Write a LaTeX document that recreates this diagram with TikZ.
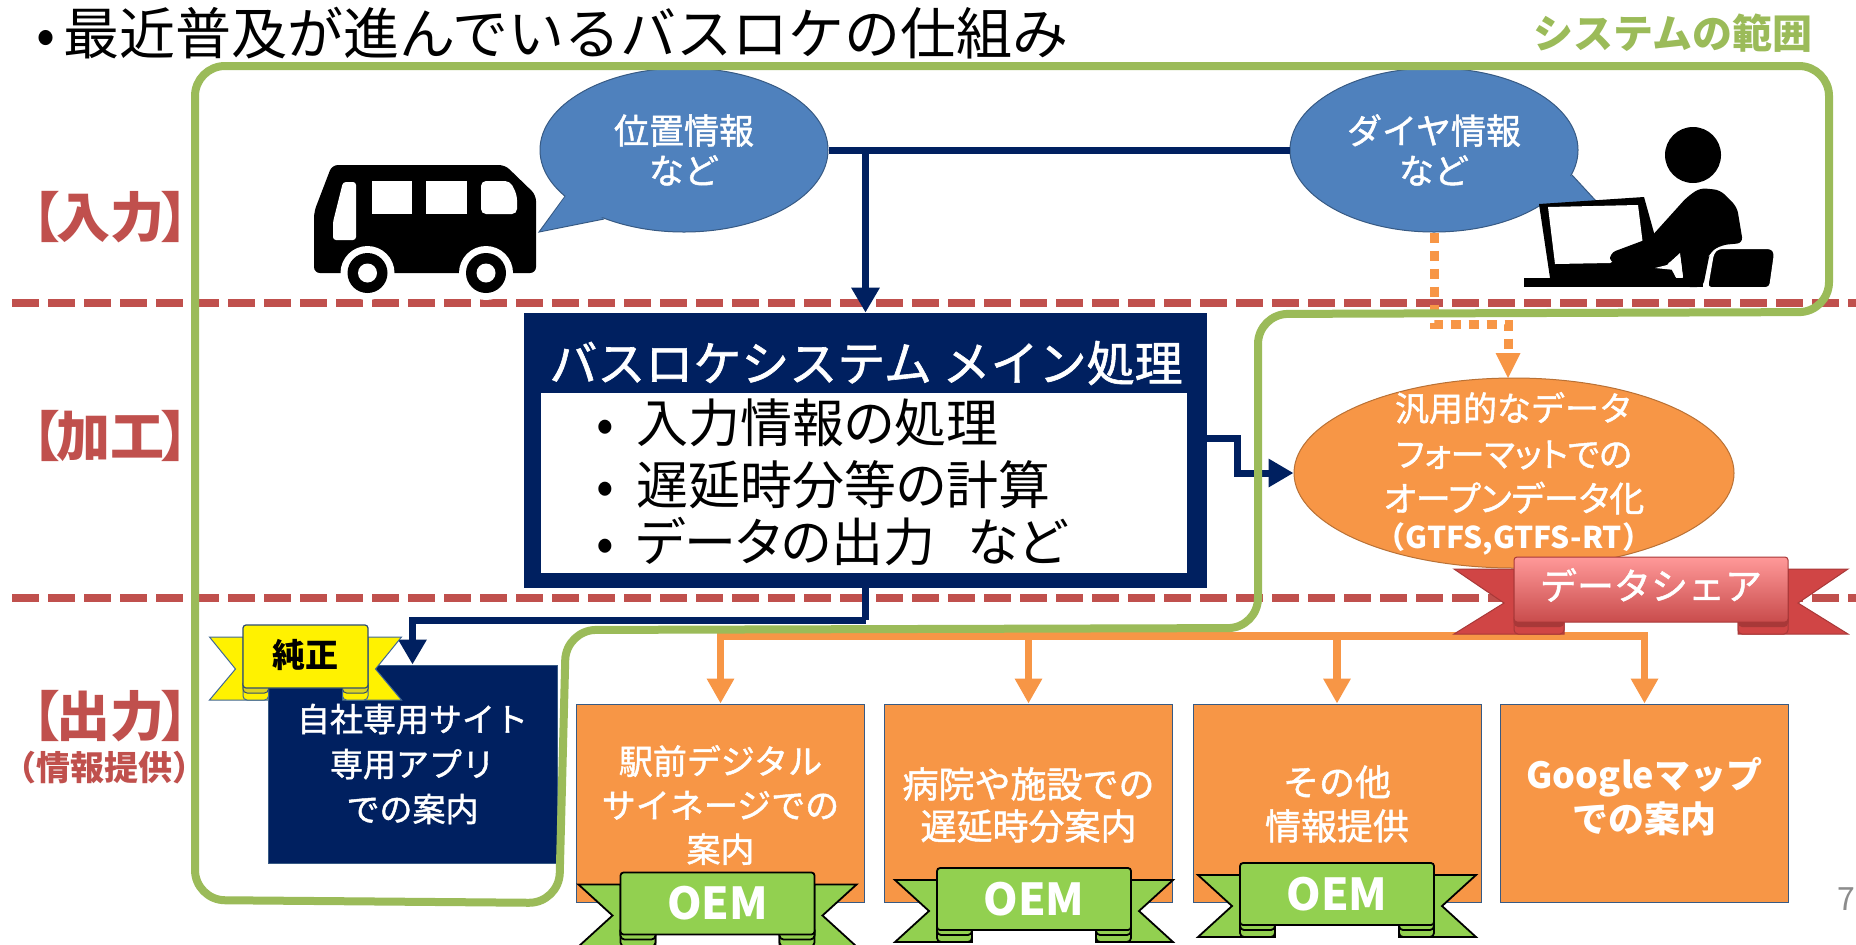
\documentclass[tikz,border=0pt]{standalone}
\usepackage{fontspec}
\setmainfont{Noto Sans CJK JP}
\newfontfamily\medfont[FakeBold=1.3]{Noto Sans CJK JP}
\newfontfamily\paltfont[RawFeature=+palt]{Noto Sans CJK JP}
\newfontfamily\medpalt[RawFeature=+palt,FakeBold=1.3]{Noto Sans CJK JP}
\usetikzlibrary{arrows.meta,shapes.geometric}
\definecolor{busnavy}{HTML}{002060}
\definecolor{borderred}{HTML}{C0504D}
\definecolor{rangegreen}{HTML}{9BBB59}
\definecolor{bubbleblue}{HTML}{4F81BD}
\definecolor{dataorange}{HTML}{F79646}
\definecolor{oemgreen}{HTML}{92D050}
\definecolor{sharetop}{HTML}{FF9999}
\definecolor{sharelow}{HTML}{C94C4C}
\definecolor{sharewing}{HTML}{D04545}
\definecolor{sharefold}{HTML}{A83838}
\newcommand\fs[2]{\fontsize{#1}{#2}\selectfont}
\newcommand\banner[8]{\begin{scope}[shift={(#1,#2)}]
\foreach \s in {-1,1}{
\path[#8wing] (\s*#5,-#4+12) -- (\s*#6,#4-19) -- (\s*#5,#4+12) -- (\s*#7,#4+12) -- (\s*#7,#4) -- (\s*#3,#4) -- (\s*#3,-#4+12) -- cycle;
\path[#8wing,rounded corners=2pt] (\s*#3,#4-8) rectangle (\s*#7,#4+12);
\path[#8fold,rounded corners=2pt] (\s*#3,#4-8) rectangle (\s*#7,#4+5);}
\path[#8face,rounded corners=1.5pt] (-#3,-#4) rectangle (#3,#4);
\end{scope}}
\tikzset{
navyline/.style={draw=busnavy,line width=3.5pt},
navyarrow/.style={navyline,-{Triangle[length=12.5pt,width=13.5pt]}},
orangearrow/.style={draw=dataorange,line width=3.75pt,-{Triangle[length=12.5pt,width=13pt]}},
dotline/.style={draw=dataorange,line width=4.5pt,dash pattern=on 5pt off 4pt},
redline/.style={draw=borderred,line width=4pt,dash pattern=on 13.5pt off 4.5pt},
bubble/.style={ellipse,inner sep=0pt,fill=bubbleblue,draw=bubbleblue!70!black,line width=.5pt,minimum width=144pt,minimum height=82pt,text=white,align=center,font=\medfont\fs{17.5}{20}},
rowlabel/.style={text=borderred,font=\fs{27}{30}\bfseries},
outbox/.style={rectangle,inner sep=0pt,fill=dataorange,draw=bubbleblue!70!black,line width=.5pt,minimum width=144pt,minimum height=99pt},
oemwing/.style={fill=oemgreen,draw=black,line width=.9pt},
oemfold/.style={fill=oemgreen,draw=black,line width=.9pt},
oemface/.style={fill=oemgreen,draw=black,line width=.9pt},
sharewing/.style={fill=sharewing,draw=sharefold,line width=.5pt},
sharefold/.style={fill=sharefold},
shareface/.style={draw=sharefold,line width=.5pt,top color=sharetop,bottom color=sharelow},
purewing/.style={fill=yellow,draw=bubbleblue!80!black,line width=.5pt},
purefold/.style={fill=yellow!85!black,draw=bubbleblue!60!black,line width=.5pt},
pureface/.style={fill=yellow,draw=bubbleblue!60!black,line width=.6pt},
}
\begin{document}
\begin{tikzpicture}[x=.5pt,y=-.5pt]
\useasboundingbox (0,0) rectangle (1856,944);
\fill[white] (0,0) rectangle (1856,944);
\node[anchor=west,inner sep=0pt,font=\fs{28}{30}] (title) at (36,33) {\makebox[13.5pt][l]{•}最近普及が進んでいるバスロケの仕組み};
\node[text=rangegreen,inner sep=0pt,font=\fs{20}{22}\bfseries] (rangelabel) at (1673,33) {システムの範囲};
\node[rowlabel] (rowin) at (110,217) {【\kern-2pt 入力\kern-2pt】};
\node[rowlabel] (rowproc) at (110,436) {【\kern-2pt 加工\kern-2pt】};
\node[rowlabel] (rowout) at (110,716) {【\kern-2pt 出力\kern-2pt】};
\node[text=borderred,font=\fs{17}{18}\bfseries] (rowinfo) at (105,768) {（情報提供）};
\node[text=black!45,font=\fs{16}{18}] (pageno) at (1846,899) {7};

\coordinate (lineaw) at (12,303);
\coordinate (lineae) at (1856,303);
\coordinate (linebw) at (12,598);
\coordinate (linebe) at (1856,598);
\draw[redline] (lineaw) -- (lineae);
\draw[redline] (linebw) -- (linebe);

\draw[fill=bubbleblue,draw=bubbleblue!70!black,line width=.5pt] (566,195) -- (539,232) -- (604,219);
\draw[fill=bubbleblue,draw=bubbleblue!70!black,line width=.5pt] (1572,175) -- (1596,201) -- (1540,210);
\node[bubble] (posbub) at (684,150) {位置情報\\など};
\node[bubble] (diabub) at (1434,150) {ダイヤ情報\\など};
\fill[bubbleblue] (570,190) -- (541,231) -- (604,217) -- (620,190) -- cycle;
\fill[bubbleblue] (1560,165) -- (1594,201) -- (1540,208) -- (1530,190) -- cycle;

\fill[rounded corners=3pt] (314,273) -- (314,212) -- (332,165) -- (505,165) -- (536,195) -- (536,273) -- cycle;
\fill[white,rounded corners=1.5pt] (333,240) -- (333,222) -- (343,182) -- (356,182) -- (356,240) -- cycle;
\fill[white] (372,181) rectangle (412,214);
\fill[white] (426,181) rectangle (467,214);
\fill[white,rounded corners=2.5pt] (481,181) -- (510,181) -- (517,195) -- (517,214) -- (481,214) -- cycle;
\foreach \wx in {367.5,486}{
\fill[white] (\wx,273) circle (13.5pt);
\fill[black] (\wx,273) circle (10pt);
\fill[white] (\wx,273) circle (4.75pt);}

\fill (1693,155) circle (14pt);
\fill (1539,204) -- (1644,197) -- (1656,240) -- (1676,278) -- (1550,278) -- cycle;
\fill[white] (1548,207) -- (1638,205) -- (1643,245) -- (1610,263) -- (1555,264) -- cycle;
\fill[rounded corners=3pt] (1650,238) -- (1687,197) -- (1700,188) -- (1720,190) -- (1737,207) -- (1743,243) -- (1722,245) -- (1710,252) -- (1703,287) -- (1684,287) -- (1680,253) -- (1667,265) -- (1610,263) -- (1610,253) -- cycle;
\fill[white] (1655,268) -- (1667,265) -- (1680,253) -- (1683,277) -- (1676,277) -- (1675,270) -- cycle;
\fill (1524,278) rectangle (1703,287);
\fill[draw=white,line width=1pt,rounded corners=2pt] (1718,248) -- (1772,248) -- (1775,253) -- (1770,288) -- (1707,288) -- (1713,253) -- cycle;

\coordinate (dotturn) at (1508,324);
\draw[dotline] (diabub.south) |- (dotturn) -- ++(0,29);
\path[fill=dataorange] (1495.5,353) -- (1520.5,353) -- (1508,378) -- cycle;

\node[ellipse,inner sep=0pt,fill=dataorange,draw=dataorange!75!black,line width=.5pt,minimum width=220pt,minimum height=95pt] (opendata) at (1514,473) {};
\node[text=white,inner sep=0pt,font=\medfont\fs{17}{20}] (opena) at (1514,408) {汎用的なデータ};
\node[text=white,inner sep=0pt,font=\medpalt\fs{17}{20}] (openb) at (1514,455) {フォーマットでの};
\node[text=white,inner sep=0pt,font=\medpalt\fs{17.5}{20}] (openc) at (1514,498) {オープンデータ化};
\node[text=white,inner sep=0pt,font=\fs{15}{20}\bfseries] (opend) at (1514,539) {（GTFS,GTFS-RT）};

\node[rectangle,inner sep=0pt,fill=busnavy,minimum width=341.5pt,minimum height=137.5pt] (mainbox) at (865.5,450.5) {};
\node[rectangle,inner sep=0pt,fill=white,minimum width=323pt,minimum height=90pt] (mainbody) at (864,483) {};
\node[text=white,inner sep=0pt,font=\medfont\fs{24}{26}] (maintitle) at (866,363) {バスロケシステム メイン処理};
\foreach \iy/\itxt [count=\i] in {423/入力情報の処理,485/遅延時分等の計算,542/データの出力　\kern-10.5pt など}
\node[anchor=west,inner sep=0pt,font=\paltfont\fs{26}{28}] (item\i) at (596,\iy) {\makebox[20pt][l]{•}\itxt};

\coordinate (mainjoin) at (mainbox.north |- posbub.east);
\draw[navyline] (posbub.east) -- (diabub.west);
\draw[navyarrow] (mainjoin) -- (mainbox.north);

\node[rectangle,inner sep=0pt,fill=busnavy,draw=bubbleblue!70!black,line width=.5pt,minimum width=144.5pt,minimum height=99pt,text=white,align=center,font=\medfont\fs{16.5}{22.5}] (ownbox) at (412.5,764) {自社専用サイト\\専用アプリ\\での案内};
\coordinate (ownjoin) at (mainbox.south |- 0,620);
\draw[navyline] (mainbox.south) -- (ownjoin);
\draw[navyarrow] (ownjoin) -| (ownbox.north);

\coordinate (sidea) at (1207,438);
\coordinate (sideb) at (1237,438);
\draw[navyarrow] (sidea) -- (sideb) |- (opendata.west);

\node[outbox] (sigbox) at (720.5,803) {};
\node[outbox] (hospbox) at (1028.5,803) {};
\node[outbox] (otherbox) at (1337,803) {};
\node[outbox] (gmapbox) at (1644.5,803) {};
\node[text=white,inner sep=0pt,align=center,font=\medfont\fs{17}{22}] (sigtext) at (720.5,805) {駅前デジタル\\サイネージでの\\案内};
\node[text=white,inner sep=0pt,align=center,font=\medfont\fs{18}{21}] (hosptext) at (1028.5,805) {病院や施設での\\遅延時分案内};
\node[text=white,inner sep=0pt,align=center,font=\medfont\fs{18}{22}] (othertext) at (1337,804) {その他\\情報提供};
\node[text=white,inner sep=0pt,align=center,font=\fs{18}{22}\bfseries] (gmaptext) at (1644.5,797) {Googleマップ\\での案内};
\coordinate (treejoin) at (opendata.south |- 0,636);
\draw[draw=dataorange,line width=3.75pt] (opendata.south) -- (treejoin);
\foreach \b in {sigbox,hospbox,otherbox,gmapbox}
\draw[orangearrow] (treejoin) -| (\b.north);

\draw[rangegreen,line width=4pt,rounded corners=15pt] (195,66) -- (1829,66) -- (1829,312) -- (1258,314) -- (1258,628) -- (566,630) -- (559,903) -- (195,900) -- cycle;

\banner{1651}{589.5}{137}{32.5}{197}{147}{87}{share}
\node[text=white,inner sep=0pt,font=\medfont\fs{18.5}{20}] (sharetext) at (1651,585) {データシェア};
\banner{305.5}{656.5}{62.5}{31.5}{96}{70}{37}{pure}
\node[inner sep=0pt,font=\fs{16.5}{18}\bfseries] (puretext) at (305,655) {純正};
\foreach \rx/\ry [count=\i] in {717.5/903.5,1034/899,1337/894}{
\banner{\rx}{\ry}{97}{31}{139}{105}{62}{oem}
\node[text=white,inner sep=0pt,font=\fs{22}{24}\bfseries] (oem\i) at (\rx,\ry) {OEM};}
\end{tikzpicture}
\end{document}
